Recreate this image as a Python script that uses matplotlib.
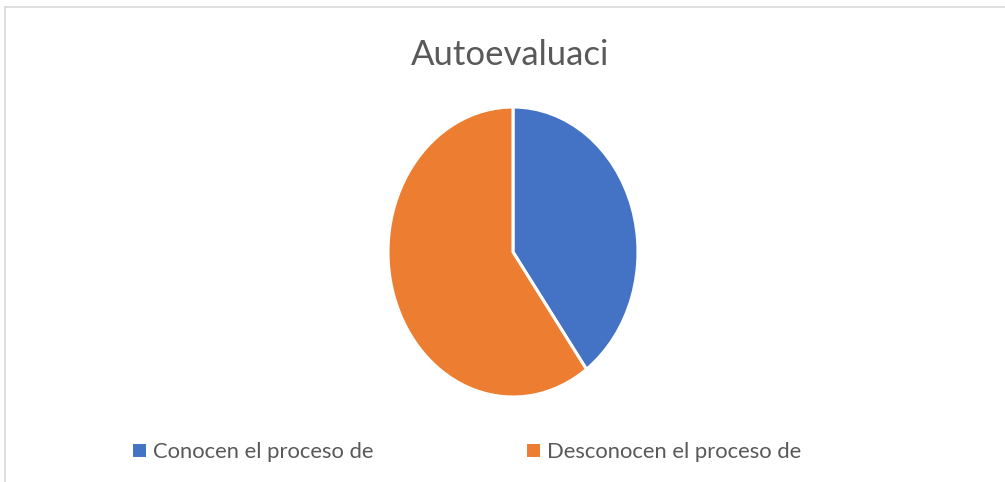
import matplotlib
matplotlib.use('Agg')
import matplotlib.pyplot as plt
from matplotlib.lines import Line2D

# datos
labels = ['Conocen el proceso de', 'Desconocen el proceso de']
values = [40, 60]
colors = ['#4472C4', '#ED7D31']
title = 'Autoevaluaci'

plt.rcParams['font.family'] = ['Lato', 'DejaVu Sans']

W, H = 1005, 482
fig = plt.figure(figsize=(W / 100, H / 100), dpi=100)

# marco gris claro del area del grafico
fig.add_artist(Line2D([5 / W, 5 / W], [0, 1 - 7 / H], transform=fig.transFigure, color='#D9D9D9', lw=1.2))
fig.add_artist(Line2D([5 / W, 1], [1 - 7 / H, 1 - 7 / H], transform=fig.transFigure, color='#D9D9D9', lw=1.2))

# el pastel es eliptico en la referencia
ax = fig.add_axes([388 / W, 1 - 397 / H, 250 / W, 290 / H])
wedges, _ = ax.pie(values, colors=colors, startangle=90, counterclock=False,
                   wedgeprops=dict(edgecolor='white', linewidth=2.2))
ax.set_aspect('auto')
ax.set_xlim(-1, 1)
ax.set_ylim(-1, 1)
ax.axis('off')

fig.text(510 / W, 1 - 55 / H, title, ha='center', va='center', fontsize=25, color='#595959')

fig.legend(wedges, labels, loc='center', bbox_to_anchor=(466 / W, 1 - 452 / H), ncol=2,
           frameon=False, fontsize=15.8, labelcolor='#595959', handlelength=0.75, handleheight=0.75,
           handletextpad=0.25, columnspacing=6.9)

fig.savefig('out.png', dpi=100)
